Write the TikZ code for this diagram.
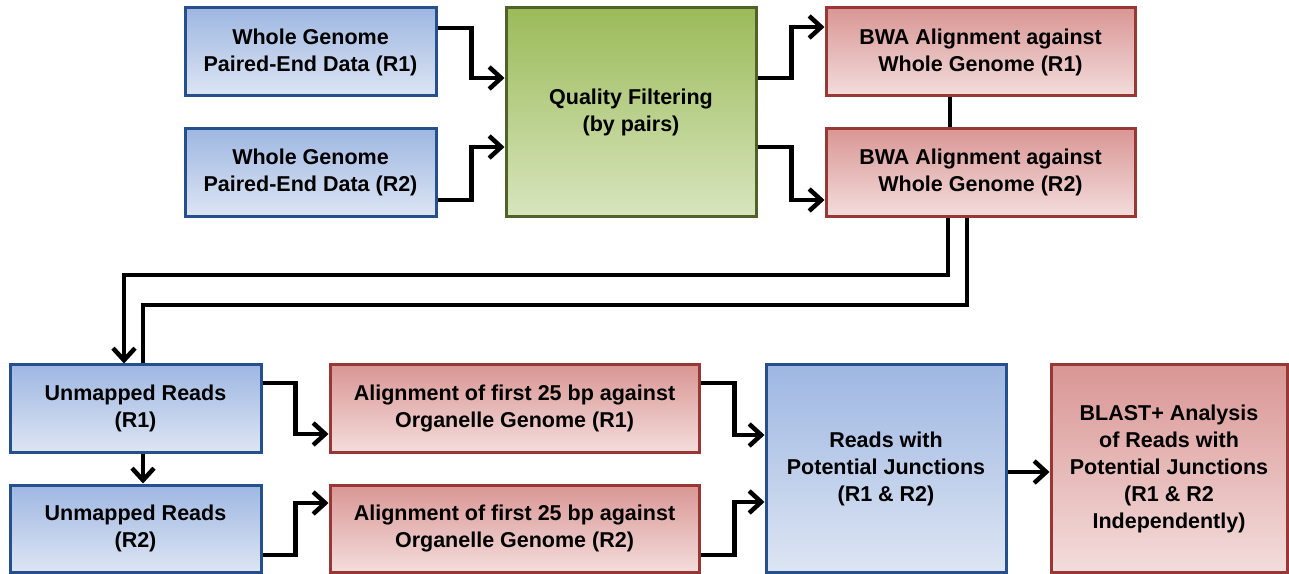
\documentclass[tikz,border=0pt]{standalone}
\usepackage{fontspec}
\setmainfont{Liberation Sans}
\usepackage{tikz}
\usetikzlibrary{arrows.meta}

\definecolor{blueTop}{RGB}{158,183,226}
\definecolor{blueBot}{RGB}{221,229,243}
\definecolor{blueLine}{RGB}{37,80,140}
\definecolor{redTop}{RGB}{217,150,148}
\definecolor{redBot}{RGB}{243,221,220}
\definecolor{redLine}{RGB}{152,56,54}
\definecolor{greenTop}{RGB}{155,187,89}
\definecolor{greenBot}{RGB}{216,229,190}
\definecolor{greenLine}{RGB}{79,98,40}

\begin{document}
\begin{tikzpicture}[x=1pt,y=1pt,
    box/.style={draw,line width=3pt,align=center,inner sep=0pt,
      font=\bfseries\fontsize{21.5}{27}\selectfont},
    bluebox/.style={box,draw=blueLine,top color=blueTop,bottom color=blueBot},
    redbox/.style={box,draw=redLine,top color=redTop,bottom color=redBot},
    greenbox/.style={box,draw=greenLine,top color=greenTop,bottom color=greenBot},
    link/.style={line width=4.5pt},
    linkarr/.style={link,-{Straight Barb[length=12pt,width=22pt]}}]
  \useasboundingbox (0,0) rectangle (1289,573);

  \node[bluebox,minimum width=251pt,minimum height=88pt] (wg1) at (310.5,521) {Whole Genome\\Paired-End Data (R1)};
  \node[bluebox,minimum width=251pt,minimum height=88pt] (wg2) at (310.5,400.5) {Whole Genome\\Paired-End Data (R2)};
  \node[greenbox,minimum width=250pt,minimum height=209pt] (qf) at (631,460.5) {Quality Filtering\\(by pairs)};
  \node[redbox,minimum width=309pt,minimum height=88pt] (bwa1) at (980.5,521) {BWA Alignment against\\Whole Genome (R1)};
  \node[redbox,minimum width=309pt,minimum height=88pt] (bwa2) at (980.5,400.5) {BWA Alignment against\\Whole Genome (R2)};

  \node[bluebox,minimum width=251pt,minimum height=87pt] (um1) at (135.5,164.5) {Unmapped Reads\\(R1)};
  \node[bluebox,minimum width=251pt,minimum height=87pt] (um2) at (135.5,44.5) {Unmapped Reads\\(R2)};
  \node[redbox,minimum width=369pt,minimum height=87pt] (al1) at (514.5,164.5) {Alignment of first 25 bp against\\Organelle Genome (R1)};
  \node[redbox,minimum width=369pt,minimum height=87pt] (al2) at (514.5,44.5) {Alignment of first 25 bp against\\Organelle Genome (R2)};
  \node[bluebox,minimum width=240pt,minimum height=207pt] (rpj) at (886,104.5) {Reads with\\Potential Junctions\\(R1 \& R2)};
  \node[redbox,minimum width=236pt,minimum height=207pt] (blast) at (1169,104.5) {BLAST+ Analysis\\of Reads with\\Potential Junctions\\(R1 \& R2\\Independently)};

  % top row
  \draw[linkarr] (wg1.east |- 0,545) -- ++(34,0) |- (qf.west |- 0,495);
  \draw[linkarr] (wg2.east |- 0,373) -- ++(34,0) |- (qf.west |- 0,426);
  \draw[linkarr] (qf.east |- 0,495) -- ++(34,0) |- (bwa1.west |- 0,546);
  \draw[linkarr] (qf.east |- 0,426) -- ++(34,0) |- (bwa2.west |- 0,373);
  \draw[link] (bwa1.south -| 950,0) -- (bwa2.north -| 950,0);

  % back down to the unmapped reads
  \draw[linkarr] (bwa2.south -| 948,0) |- (124,298) -- (um1.north -| 124,0);
  \draw[link] (bwa2.south -| 967,0) |- (143,268) -- (um1.north -| 143,0);

  % bottom row
  \draw[linkarr] (um1.south -| 143,0) -- (um2.north -| 143,0);
  \draw[linkarr] (um1.east |- 0,190) -- ++(33,0) |- (al1.west |- 0,139);
  \draw[linkarr] (um2.east |- 0,18) -- ++(33,0) |- (al2.west |- 0,70);
  \draw[linkarr] (al1.east |- 0,190) -- ++(34,0) |- (rpj.west |- 0,138);
  \draw[linkarr] (al2.east |- 0,18) -- ++(34,0) |- (rpj.west |- 0,71);
  \draw[linkarr] (rpj.east |- 0,101) -- (blast.west |- 0,101);
\end{tikzpicture}
\end{document}
